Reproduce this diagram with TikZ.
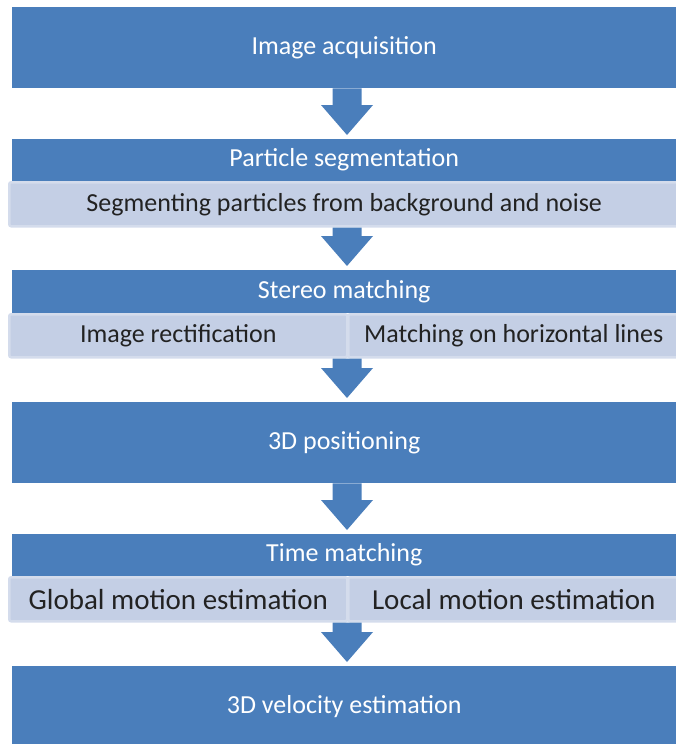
\documentclass[tikz,border=0pt]{standalone}
\usepackage{fontspec}
\setmainfont{Carlito}
\usetikzlibrary{positioning, calc}

\definecolor{stepblue}{HTML}{4A7EBB}
\definecolor{barfill}{HTML}{C4CFE5}
\definecolor{barline}{HTML}{D4DCEC}
\definecolor{bartext}{HTML}{222222}

\tikzset{
  stage/.style={fill=stepblue, text=white, anchor=north west, inner sep=0pt,
    font=\fontsize{26}{30}\selectfont},
  detail/.style={fill=barfill, draw=barline, line width=2.5pt, rounded corners=2pt,
    text=bartext, anchor=north west, inner sep=0pt,
    font=\fontsize{26}{30}\selectfont},
  blockarrow/.style={fill=stepblue}
}

\begin{document}
\begin{tikzpicture}[x=1pt,y=-1pt]
		\useasboundingbox (0,0) rectangle (676,744);
		\coordinate (axis) at (347,0);
		% stages and their details
		\node[stage,minimum width=664pt,minimum height=81pt] (acq) at (12,7) {Image acquisition};
		\node[stage,minimum width=664pt,minimum height=42pt] (seg) at (12,139) {Particle segmentation};
		\node[detail,minimum width=670pt,minimum height=44pt] (segbar) at (8,181) {Segmenting particles from background and noise};
		\node[stage,minimum width=664pt,minimum height=43pt] (stereo) at (12,270) {Stereo matching};
		\node[detail,minimum width=338pt,minimum height=43pt] (rectbar) at (8,313) {Image rectification};
		\node[detail,minimum width=331pt,minimum height=43pt] (horbar) at (347,313) {Matching on horizontal lines};
		\node[stage,minimum width=664pt,minimum height=81pt] (pos) at (12,402) {3D positioning};
		\node[stage,minimum width=664pt,minimum height=42pt] (time) at (12,534) {Time matching};
		\node[detail,minimum width=338pt,minimum height=44pt,font=\fontsize{29}{33}\selectfont] (globbar) at (8,576) {Global motion estimation};
		\node[detail,minimum width=331pt,minimum height=44pt,font=\fontsize{29}{33}\selectfont] (locbar) at (347,576) {Local motion estimation};
		\node[stage,minimum width=664pt,minimum height=80pt] (vel) at (12,666) {3D velocity estimation};
		% block arrows
		\foreach \a/\b in {acq/seg, segbar/stereo, rectbar/pos, pos/time, globbar/vel}
			\fill[blockarrow] let \p1=(\a.south -| axis), \p2=(\b.north -| axis) in
				(\x1-14.5pt,\y1) -- (\x1+14.5pt,\y1) -- (\x1+14.5pt,\y2+34pt) -- (\x1+26pt,\y2+34pt)
				-- (\x1,\y2+4pt) -- (\x1-26pt,\y2+34pt) -- (\x1-14.5pt,\y2+34pt) -- cycle;
	\end{tikzpicture}
\end{document}
